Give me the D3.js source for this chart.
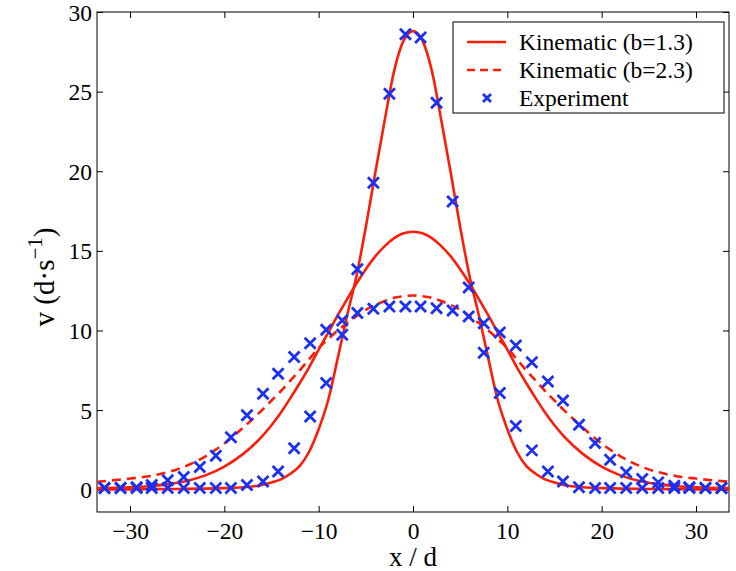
<!doctype html>
<html lang="en">
<head>
<meta charset="utf-8">
<title>v vs x/d</title>
<style>
  body { margin: 0; background: #fff; }
  svg text { font-family: "Liberation Serif", "DejaVu Serif", serif; fill: #000; }
</style>
</head>
<body>
<script src="https://cdn.jsdelivr.net/npm/d3@7"></script>
<script>

// curve grid (x/d) and the three model curves
var curveX = [-33.5, -30, -28, -26, -24, -22, -20, -18, -16, -15, -14, -13, -12, -11, -10, -9, -8, -7, -6, -5, -4, -3, -2, -1,
              0, 1, 2, 3, 4, 5, 6, 7, 8, 9, 10, 11, 12, 13, 14, 15, 16, 18, 20, 22, 24, 26, 28, 30, 33.5];

var kinNarrow = [0.02, 0.02, 0.03, 0.04, 0.05, 0.07, 0.1, 0.15, 0.3, 0.45, 0.65, 1.0, 1.5, 2.4, 3.8, 5.6, 8.2, 10.9, 13.4, 16.5, 19.9, 23.2, 26.3, 28.2,
                 28.8, 28.2, 26.3, 23.2, 19.9, 16.5, 13.4, 10.9, 8.2, 5.6, 3.8, 2.4, 1.5, 1.0, 0.65, 0.45, 0.3, 0.15, 0.1, 0.07, 0.05, 0.04, 0.03, 0.02, 0.02];

var kinWide = [0.1, 0.15, 0.22, 0.35, 0.55, 0.9, 1.45, 2.25, 3.35, 4.05, 4.85, 5.75, 6.7, 7.7, 8.8, 9.85, 10.93, 11.95, 12.95, 13.85, 14.65, 15.3, 15.8, 16.1,
               16.2, 16.1, 15.8, 15.3, 14.65, 13.85, 12.95, 11.95, 10.93, 9.85, 8.8, 7.7, 6.7, 5.75, 4.85, 4.05, 3.35, 2.25, 1.45, 0.9, 0.55, 0.35, 0.22, 0.15, 0.1];

var kinB23 = [0.5, 0.7, 0.85, 1.1, 1.5, 2.1, 2.9, 3.9, 5.0, 5.6, 6.2, 6.85, 7.5, 8.2, 8.9, 9.45, 10.0, 10.45, 10.9, 11.3, 11.6, 11.85, 12.05, 12.15,
              12.2, 12.15, 12.05, 11.85, 11.6, 11.3, 10.9, 10.45, 10.0, 9.45, 8.9, 8.2, 7.5, 6.85, 6.2, 5.6, 5.0, 3.9, 2.9, 2.1, 1.5, 1.1, 0.85, 0.7, 0.5];

// experiment positions and the two measured profiles
var expX = [-32.7, -31.0, -29.3, -27.7, -26.0, -24.3, -22.6, -20.9, -19.3, -17.6, -15.9, -14.3, -12.6, -10.9, -9.2, -7.5, -5.9, -4.2, -2.5, -0.8,
            0.8, 2.5, 4.2, 5.9, 7.5, 9.2, 10.9, 12.6, 14.3, 15.9, 17.6, 19.3, 20.9, 22.6, 24.3, 26.0, 27.7, 29.3, 31.0, 32.7];

var expNarrow = [0.1, 0.1, 0.1, 0.1, 0.1, 0.1, 0.1, 0.1, 0.1, 0.3, 0.52, 1.15, 2.6, 4.6, 6.7, 9.73, 13.85, 19.27, 24.86, 28.6,
                 28.4, 24.3, 18.1, 12.7, 8.6, 6.07, 4.0, 2.47, 1.15, 0.52, 0.15, 0.1, 0.1, 0.1, 0.1, 0.1, 0.1, 0.1, 0.1, 0.1];

var expWide = [0.1, 0.1, 0.15, 0.3, 0.6, 0.8, 1.42, 2.13, 3.3, 4.67, 6.03, 7.28, 8.33, 9.2, 10.04, 10.63, 11.09, 11.36, 11.5, 11.5,
               11.5, 11.4, 11.25, 10.88, 10.46, 9.87, 9.06, 8.0, 6.8, 5.6, 4.08, 2.93, 1.88, 1.09, 0.67, 0.46, 0.25, 0.15, 0.1, 0.1];

var xTicks = [-30, -20, -10, 0, 10, 20, 30];
var yTicks = [0, 5, 10, 15, 20, 25, 30];
var legendLabels = ["Kinematic (b=1.3)", "Kinematic (b=2.3)", "Experiment"];

var w = 736, h = 571;
var plotL = 97, plotR = 729, plotT = 12, plotB = 512;
var red = "#fa1e0a", blue = "#1c30f0";
var fs = 23.5;

var svg = d3.select("body").append("svg")
    .attr("width", w)
    .attr("height", h);

var x = d3.scaleLinear().domain([-33.5, 33.5]).range([plotL, plotR]);
var y = d3.scaleLinear().domain([-1.4, 30]).range([plotB, plotT]);

svg.append("clipPath").attr("id", "plot")
  .append("rect")
    .attr("x", plotL).attr("y", plotT)
    .attr("width", plotR - plotL).attr("height", plotB - plotT);

// axes with inward ticks on all four sides
var tl = 6;
svg.append("g").attr("transform", "translate(0," + plotB + ")")
    .call(d3.axisBottom(x).tickValues(xTicks).tickSizeInner(-tl).tickSizeOuter(0)
      .tickFormat(function(d) { return d < 0 ? "\u2212" + Math.abs(d) : d; }))
    .call(function(g) {
      g.select(".domain").remove();
      g.selectAll("text").attr("y", 27).attr("dy", 0).attr("font-size", fs).attr("font-family", "Liberation Serif");
    });
svg.append("g").attr("transform", "translate(0," + plotT + ")")
    .call(d3.axisTop(x).tickValues(xTicks).tickSizeInner(-tl).tickSizeOuter(0).tickFormat(""))
    .call(function(g) { g.select(".domain").remove(); });
svg.append("g").attr("transform", "translate(" + plotL + ",0)")
    .call(d3.axisLeft(y).tickValues(yTicks).tickSizeInner(-tl).tickSizeOuter(0))
    .call(function(g) {
      g.select(".domain").remove();
      g.selectAll("text").attr("x", -5).attr("dy", "0.34em").attr("font-size", fs).attr("font-family", "Liberation Serif");
    });
svg.append("g").attr("transform", "translate(" + plotR + ",0)")
    .call(d3.axisRight(y).tickValues(yTicks).tickSizeInner(-tl).tickSizeOuter(0).tickFormat(""))
    .call(function(g) { g.select(".domain").remove(); });

svg.append("rect")
    .attr("x", plotL).attr("y", plotT)
    .attr("width", plotR - plotL).attr("height", plotB - plotT)
    .attr("fill", "none").attr("stroke", "#000").attr("stroke-width", 1);

// curves
var line = d3.line()
    .x(function(d) { return x(d[0]); })
    .y(function(d) { return y(d[1]); })
    .curve(d3.curveMonotoneX);

var plot = svg.append("g").attr("clip-path", "url(#plot)");

[
  { v: kinB23, dash: "9,6" },
  { v: kinWide, dash: null },
  { v: kinNarrow, dash: null }
].forEach(function(c) {
  plot.append("path")
      .datum(d3.zip(curveX, c.v))
      .attr("d", line)
      .attr("fill", "none")
      .attr("stroke", red)
      .attr("stroke-width", 2.6)
      .attr("stroke-dasharray", c.dash);
});

// experiment crosses
var cross = function(sel, s) {
  sel.append("path")
     .attr("d", "M" + (-s) + "," + (-s) + "L" + s + "," + s + "M" + (-s) + "," + s + "L" + s + "," + (-s))
     .attr("stroke", blue)
     .attr("stroke-width", 2.8)
     .attr("fill", "none");
};

var pts = d3.zip(expX, expNarrow).concat(d3.zip(expX, expWide));
plot.selectAll("g.pt")
    .data(pts)
    .enter().append("g")
    .attr("class", "pt")
    .attr("transform", function(d) { return "translate(" + x(d[0]) + "," + y(d[1]) + ")"; })
    .each(function() { cross(d3.select(this), 5.5); });

// axis labels
svg.append("text")
    .attr("x", x(0)).attr("y", 566)
    .attr("text-anchor", "middle")
    .attr("font-size", 27)
    .text("x / d");

var yl = svg.append("text")
    .attr("transform", "translate(54,277) rotate(-90)")
    .attr("text-anchor", "middle")
    .attr("font-size", 29);
yl.append("tspan").text("v (d\u00b7s");
yl.append("tspan").attr("dy", -12).attr("font-size", 21).text("\u22121");
yl.append("tspan").attr("dy", 12).text(")");

// legend
var lg = svg.append("g");
lg.append("rect")
    .attr("x", 453).attr("y", 22).attr("width", 271).attr("height", 91)
    .attr("fill", "#fff").attr("stroke", "#000").attr("stroke-width", 1);

var rows = [42, 70, 98];
lg.append("line").attr("x1", 467).attr("x2", 506).attr("y1", rows[0]).attr("y2", rows[0])
    .attr("stroke", red).attr("stroke-width", 2.6);
lg.append("line").attr("x1", 467).attr("x2", 506).attr("y1", rows[1]).attr("y2", rows[1])
    .attr("stroke", red).attr("stroke-width", 2.6).attr("stroke-dasharray", "8,5");
cross(lg.append("g").attr("transform", "translate(487," + rows[2] + ")"), 4);

lg.selectAll("text.lab")
    .data(legendLabels)
    .enter().append("text")
    .attr("class", "lab")
    .attr("x", 519)
    .attr("y", function(d, i) { return rows[i] + 8; })
    .attr("font-size", fs)
    .text(function(d) { return d; });

</script>
</body>
</html>
